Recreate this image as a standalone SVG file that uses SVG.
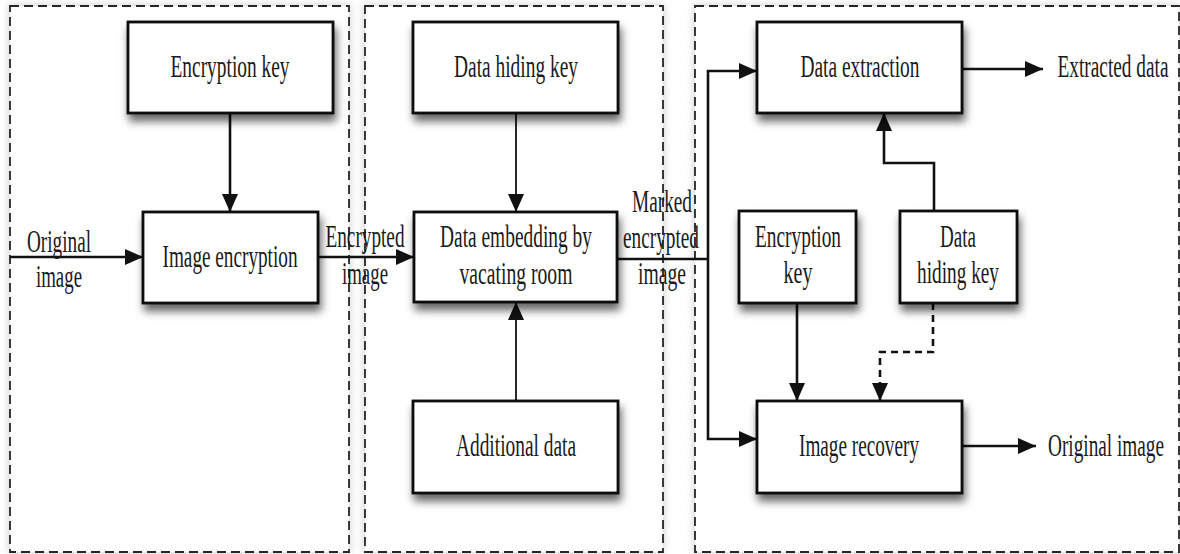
<svg xmlns="http://www.w3.org/2000/svg" width="1180" height="554" viewBox="0 0 1180 554">
  <defs>
    <style>
      .panel { fill: #ffffff; stroke: #262626; stroke-width: 1.8; stroke-dasharray: 9 5; filter: url(#glow); }
      .box { fill: #ffffff; stroke: #111111; stroke-width: 2.8; filter: url(#drop); }
      .lbl { font-family: "Liberation Serif", "Times New Roman", serif; font-size: 31px; fill: #1a1a1a; text-anchor: middle; }
      .wire { fill: none; stroke: #111111; stroke-width: 2.6; }
      .thin { stroke-width: 1.8; }
      .dash { stroke-dasharray: 7 5; stroke-width: 2.6; }
    </style>
    <filter id="drop" x="-10%" y="-10%" width="130%" height="145%">
      <feDropShadow dx="2" dy="7" stdDeviation="4.5" flood-color="#000" flood-opacity="0.6"/>
    </filter>
    <filter id="glow" x="-5%" y="-5%" width="110%" height="110%">
      <feDropShadow dx="0" dy="0" stdDeviation="4" flood-color="#000" flood-opacity="0.2"/>
    </filter>
    <marker id="arrow" viewBox="0 0 18 16" refX="18" refY="8" markerWidth="18" markerHeight="16" markerUnits="userSpaceOnUse" orient="auto">
      <path d="M0,0 L18,8 L0,16 z" fill="#111111"/>
    </marker>
  </defs>

  <rect width="1180" height="554" fill="#ffffff"/>

  <!-- stage panels -->
  <g id="panels">
    <rect class="panel" x="10" y="6" width="339" height="546"/>
    <rect class="panel" x="365" y="6" width="298" height="546"/>
    <rect class="panel" x="695" y="6" width="484" height="546"/>
  </g>

  <!-- connectors -->
  <g id="connectors">
    <line class="wire" x1="230" y1="113" x2="230" y2="212" marker-end="url(#arrow)"/>
    <line class="wire" x1="10" y1="257" x2="143" y2="257" marker-end="url(#arrow)"/>
    <line class="wire" x1="318" y1="257" x2="414" y2="257" marker-end="url(#arrow)"/>
    <line class="wire thin" x1="516" y1="113" x2="516" y2="212" marker-end="url(#arrow)"/>
    <line class="wire thin" x1="516" y1="401" x2="516" y2="302" marker-end="url(#arrow)"/>
    <polyline class="wire" points="617,259 708,259"/>
    <polyline class="wire" points="708,259 708,71 757,71" marker-end="url(#arrow)"/>
    <polyline class="wire" points="708,259 708,439 757,439" marker-end="url(#arrow)"/>
    <line class="wire" x1="962" y1="69" x2="1043" y2="69" marker-end="url(#arrow)"/>
    <polyline class="wire" points="934,211 934,163 884,163 884,113" marker-end="url(#arrow)"/>
    <line class="wire" x1="797" y1="303" x2="797" y2="401" marker-end="url(#arrow)"/>
    <polyline class="wire dash" points="933,303 933,352 880,352 880,401" marker-end="url(#arrow)"/>
    <line class="wire" x1="955" y1="446" x2="1036" y2="446" marker-end="url(#arrow)"/>
  </g>

  <!-- edge labels -->
  <g id="edge-labels">
    <text class="lbl" x="59" y="252" textLength="64" lengthAdjust="spacingAndGlyphs">Original</text>
    <text class="lbl" x="59" y="287" textLength="46" lengthAdjust="spacingAndGlyphs">image</text>
    <text class="lbl" x="365" y="247" textLength="79" lengthAdjust="spacingAndGlyphs">Encrypted</text>
    <text class="lbl" x="365" y="284" textLength="46" lengthAdjust="spacingAndGlyphs">image</text>
    <text class="lbl" x="662" y="212" textLength="60" lengthAdjust="spacingAndGlyphs">Marked</text>
    <text class="lbl" x="661" y="248" textLength="76" lengthAdjust="spacingAndGlyphs">encrypted</text>
    <text class="lbl" x="662" y="284" textLength="48" lengthAdjust="spacingAndGlyphs">image</text>
    <text class="lbl" x="1113" y="77" textLength="111" lengthAdjust="spacingAndGlyphs">Extracted data</text>
    <text class="lbl" x="1106" y="456" textLength="116" lengthAdjust="spacingAndGlyphs">Original image</text>
  </g>

  <!-- nodes -->
  <g id="encryption-key">
    <rect class="box" x="128" y="22" width="205" height="91"/>
    <text class="lbl" x="230" y="77" textLength="119" lengthAdjust="spacingAndGlyphs">Encryption key</text>
  </g>
  <g id="image-encryption">
    <rect class="box" x="143" y="212" width="175" height="91"/>
    <text class="lbl" x="230" y="267" textLength="135" lengthAdjust="spacingAndGlyphs">Image encryption</text>
  </g>
  <g id="data-hiding-key">
    <rect class="box" x="413" y="22" width="205" height="91"/>
    <text class="lbl" x="516" y="77" textLength="124" lengthAdjust="spacingAndGlyphs">Data hiding key</text>
  </g>
  <g id="data-embedding">
    <rect class="box" x="414" y="212" width="203" height="90"/>
    <text class="lbl" x="516" y="247" textLength="152" lengthAdjust="spacingAndGlyphs">Data embedding by</text>
    <text class="lbl" x="516" y="284" textLength="113" lengthAdjust="spacingAndGlyphs">vacating room</text>
  </g>
  <g id="additional-data">
    <rect class="box" x="413" y="401" width="205" height="92"/>
    <text class="lbl" x="516" y="456" textLength="120" lengthAdjust="spacingAndGlyphs">Additional data</text>
  </g>
  <g id="data-extraction">
    <rect class="box" x="757" y="22" width="205" height="91"/>
    <text class="lbl" x="860" y="77" textLength="119" lengthAdjust="spacingAndGlyphs">Data extraction</text>
  </g>
  <g id="recovery-encryption-key">
    <rect class="box" x="739" y="211" width="117" height="92"/>
    <text class="lbl" x="798" y="247" textLength="86" lengthAdjust="spacingAndGlyphs">Encryption</text>
    <text class="lbl" x="798" y="283" textLength="29" lengthAdjust="spacingAndGlyphs">key</text>
  </g>
  <g id="recovery-data-hiding-key">
    <rect class="box" x="900" y="211" width="117" height="92"/>
    <text class="lbl" x="958" y="247" textLength="36" lengthAdjust="spacingAndGlyphs">Data</text>
    <text class="lbl" x="958" y="283" textLength="82" lengthAdjust="spacingAndGlyphs">hiding key</text>
  </g>
  <g id="image-recovery">
    <rect class="box" x="757" y="401" width="205" height="92"/>
    <text class="lbl" x="859" y="456" textLength="120" lengthAdjust="spacingAndGlyphs">Image recovery</text>
  </g>
</svg>
